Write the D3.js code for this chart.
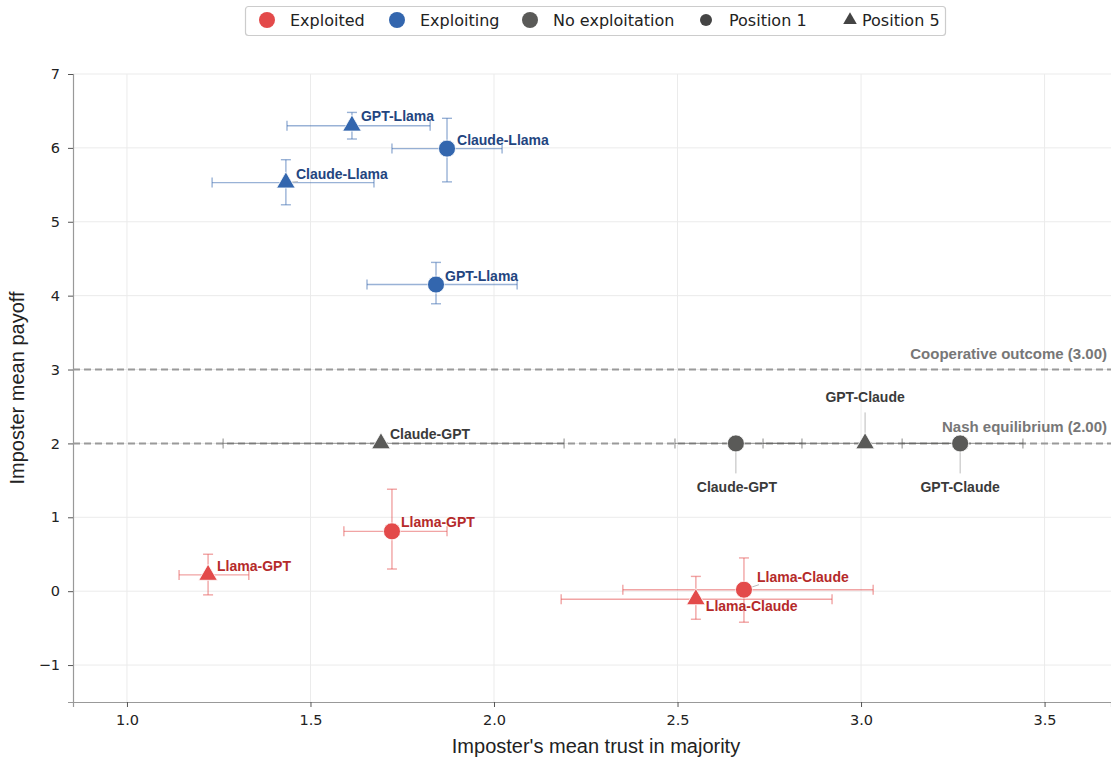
<!DOCTYPE html>
<html>
<head>
<meta charset="utf-8">
<script src="https://cdn.jsdelivr.net/npm/d3@7"></script>
<style>
  body { margin: 0; background: #fff; }
  svg { display: block; }
</style>
</head>
<body>
<svg id="chart" width="1111" height="759"></svg>
<script>
// pairs: imposter model - majority model
var labels   = ['GPT-Llama', 'Claude-Llama', 'Claude-Llama', 'GPT-Llama',
                'Claude-GPT', 'Claude-GPT', 'GPT-Claude', 'GPT-Claude',
                'Llama-GPT', 'Llama-GPT', 'Llama-Claude', 'Llama-Claude'];
var groups   = ['Exploiting', 'Exploiting', 'Exploiting', 'Exploiting',
                'No exploitation', 'No exploitation', 'No exploitation', 'No exploitation',
                'Exploited', 'Exploited', 'Exploited', 'Exploited'];
var position = [5, 1, 5, 1, 5, 1, 5, 1, 5, 1, 1, 5];
var trust    = [1.613, 1.872, 1.433, 1.842, 1.692, 2.659, 3.011, 3.270, 1.221, 1.722, 2.681, 2.550];
var trustLo  = [1.436, 1.722, 1.232, 1.654, 1.262, 2.493, 2.733, 3.112, 1.142, 1.591, 2.351, 2.183];
var trustHi  = [1.826, 2.022, 1.673, 2.063, 2.191, 2.839, 3.289, 3.441, 1.332, 1.872, 3.033, 2.921];
var payoff   = [6.30, 5.99, 5.53, 4.15, 2.00, 2.00, 2.00, 2.00, 0.22, 0.81, 0.02, -0.11];
var payoffLo = [6.12, 5.54, 5.23, 3.89, 2.00, 2.00, 2.00, 2.00, -0.05, 0.30, -0.42, -0.38];
var payoffHi = [6.48, 6.40, 5.84, 4.45, 2.00, 2.00, 2.00, 2.00, 0.50, 1.38, 0.45, 0.20];

var refValues = [3, 2];
var refLabels = ['Cooperative outcome (3.00)', 'Nash equilibrium (2.00)'];

var xTicks = [1.0, 1.5, 2.0, 2.5, 3.0, 3.5];
var yTicks = [-1, 0, 1, 2, 3, 4, 5, 6, 7];

var legendLabels = ['Exploited', 'Exploiting', 'No exploitation', 'Position 1', 'Position 5'];

var colors = {
  'Exploited':       { mark: '#e34a4a', text: '#b52a2a' },
  'Exploiting':      { mark: '#3366ae', text: '#23457f' },
  'No exploitation': { mark: '#5a5a58', text: '#3a3a3a' }
};

// label placement (pixel offsets from the marker), anchor, leader line
var labelPlace = [
  { dx: 9,  dy: -10, anchor: 'start' },
  { dx: 10, dy: -9,  anchor: 'start' },
  { dx: 10, dy: -9,  anchor: 'start', leader: true },
  { dx: 9,  dy: -9,  anchor: 'start' },
  { dx: 9,  dy: -9,  anchor: 'start' },
  { dx: 1,  dy: 44,  anchor: 'middle', leader: [8, 30] },
  { dx: 0,  dy: -46, anchor: 'middle', leader: [-7, -31] },
  { dx: 0,  dy: 44,  anchor: 'middle', leader: [8, 30] },
  { dx: 9,  dy: -9,  anchor: 'start' },
  { dx: 9,  dy: -9,  anchor: 'start' },
  { dx: 13, dy: -13, anchor: 'start', leader: true },
  { dx: 10, dy: 7,   anchor: 'start' }
];

var svg = d3.select('#chart');
var margin = { left: 73, right: 0, top: 74, bottom: 57 };
var width = 1111, height = 759;

var x = d3.scaleLinear().domain([0.853, 3.681]).range([margin.left, width - margin.right]);
var y = d3.scaleLinear().domain([-1.5, 7]).range([height - margin.bottom, margin.top]);

var data = labels.map(function(d, i) {
  return { label: d, group: groups[i], pos: position[i],
    x: trust[i], xlo: trustLo[i], xhi: trustHi[i],
    y: payoff[i], ylo: payoffLo[i], yhi: payoffHi[i], place: labelPlace[i] };
});

// grid
var grid = svg.append('g');
grid.selectAll('.gx').data(xTicks).enter().append('line')
  .attr('x1', function(d) { return x(d); }).attr('x2', function(d) { return x(d); })
  .attr('y1', y(-1.5)).attr('y2', y(7))
  .attr('stroke', '#ebebeb').attr('stroke-width', 1);
grid.selectAll('.gy').data(yTicks).enter().append('line')
  .attr('x1', x.range()[0]).attr('x2', x.range()[1])
  .attr('y1', function(d) { return y(d); }).attr('y2', function(d) { return y(d); })
  .attr('stroke', '#ebebeb').attr('stroke-width', 1);

// reference lines
svg.selectAll('.ref').data(refValues).enter().append('line')
  .attr('x1', x.range()[0]).attr('x2', x.range()[1])
  .attr('y1', function(d) { return y(d); }).attr('y2', function(d) { return y(d); })
  .attr('stroke', '#9a9a9a').attr('stroke-width', 2).attr('stroke-dasharray', '7,4');
svg.selectAll('.reflab').data(refValues).enter().append('text')
  .attr('x', 1107).attr('y', function(d) { return y(d) - 11; })
  .attr('text-anchor', 'end')
  .style('font-family', 'Liberation Sans, Arial, sans-serif')
  .style('font-size', '15px').style('font-weight', 'bold').attr('fill', '#777')
  .text(function(d, i) { return refLabels[i]; });

// axes
var xAxis = svg.append('g').attr('transform', 'translate(0,' + y(-1.5) + ')')
  .call(d3.axisBottom(x).tickValues(xTicks).tickFormat(d3.format('.1f')).tickSize(5).tickPadding(8));
var yAxis = svg.append('g').attr('transform', 'translate(' + margin.left + ',0)')
  .call(d3.axisLeft(y).tickValues(yTicks).tickFormat(function(d) { return d < 0 ? '\u2212' + Math.abs(d) : d; }).tickSize(5).tickPadding(8));
[xAxis, yAxis].forEach(function(a) {
  a.select('.domain').attr('stroke', '#999').attr('stroke-width', 1.2);
  a.selectAll('.tick line').attr('stroke', '#555');
  a.selectAll('.tick text').attr('fill', '#222')
    .style('font-family', 'DejaVu Sans, sans-serif').style('font-size', '14.5px');
});

svg.append('text').attr('x', 596).attr('y', 753).attr('text-anchor', 'middle')
  .style('font-family', 'Liberation Sans, Arial, sans-serif').style('font-size', '20px')
  .attr('fill', '#222').text("Imposter's mean trust in majority");
svg.append('text').attr('transform', 'translate(24,388) rotate(-90)').attr('text-anchor', 'middle')
  .style('font-family', 'Liberation Sans, Arial, sans-serif').style('font-size', '20px')
  .attr('fill', '#222').text('Imposter mean payoff');

// error bars
var cap = 5;
var eb = svg.append('g').selectAll('g').data(data).enter().append('g')
  .attr('stroke', function(d) { return colors[d.group].mark; })
  .attr('stroke-opacity', 0.5).attr('stroke-width', 1.4);
eb.append('line')
  .attr('x1', function(d) { return x(d.xlo); }).attr('x2', function(d) { return x(d.xhi); })
  .attr('y1', function(d) { return y(d.y); }).attr('y2', function(d) { return y(d.y); });
eb.append('line')
  .attr('x1', function(d) { return x(d.xlo); }).attr('x2', function(d) { return x(d.xlo); })
  .attr('y1', function(d) { return y(d.y) - cap; }).attr('y2', function(d) { return y(d.y) + cap; });
eb.append('line')
  .attr('x1', function(d) { return x(d.xhi); }).attr('x2', function(d) { return x(d.xhi); })
  .attr('y1', function(d) { return y(d.y) - cap; }).attr('y2', function(d) { return y(d.y) + cap; });
eb.filter(function(d) { return d.yhi !== d.ylo; }).each(function(d) {
  var g = d3.select(this);
  g.append('line').attr('x1', x(d.x)).attr('x2', x(d.x)).attr('y1', y(d.ylo)).attr('y2', y(d.yhi));
  g.append('line').attr('x1', x(d.x) - cap).attr('x2', x(d.x) + cap).attr('y1', y(d.ylo)).attr('y2', y(d.ylo));
  g.append('line').attr('x1', x(d.x) - cap).attr('x2', x(d.x) + cap).attr('y1', y(d.yhi)).attr('y2', y(d.yhi));
});

// leader lines
svg.append('g').selectAll('line').data(data.filter(function(d) { return d.place.leader; }))
  .enter().append('line')
  .attr('stroke', '#bbb').attr('stroke-width', 1)
  .attr('x1', function(d) { return x(d.x); })
  .attr('y1', function(d) { return Array.isArray(d.place.leader) ? y(d.y) + d.place.leader[0] : y(d.y); })
  .attr('x2', function(d) { return Array.isArray(d.place.leader) ? x(d.x) : x(d.x) + d.place.dx + 2; })
  .attr('y2', function(d) { return Array.isArray(d.place.leader) ? y(d.y) + d.place.leader[1] : y(d.y) + d.place.dy + 8; });

// markers
var circle = d3.symbol().type(d3.symbolCircle).size(Math.PI * 8.5 * 8.5);
var tri = d3.symbol().type(d3.symbolTriangle).size(150);
svg.append('g').selectAll('path').data(data).enter().append('path')
  .attr('transform', function(d) { return 'translate(' + x(d.x) + ',' + y(d.y) + ')'; })
  .attr('d', function(d) { return d.pos === 1 ? circle() : tri(); })
  .attr('fill', function(d) { return colors[d.group].mark; })
  .attr('stroke', '#fff').attr('stroke-width', 0.8);

// point labels
svg.append('g').selectAll('text').data(data).enter().append('text')
  .attr('x', function(d) { return x(d.x) + d.place.dx; })
  .attr('y', function(d) { return y(d.y) + d.place.dy + 5; })
  .attr('text-anchor', function(d) { return d.place.anchor; })
  .style('font-family', 'Liberation Sans, Arial, sans-serif')
  .style('font-size', '14px').style('font-weight', 'bold')
  .attr('fill', function(d) { return colors[d.group].text; })
  .text(function(d) { return d.label; });

// legend
var legend = svg.append('g');
legend.append('rect').attr('x', 245.5).attr('y', 6.5).attr('width', 700).attr('height', 29)
  .attr('rx', 3).attr('fill', '#fff').attr('stroke', '#ccc').attr('stroke-width', 1.2);
var legX = [267, 397, 530, 706, 850];
var legMarks = [
  { type: 'circle', color: colors['Exploited'].mark, size: Math.PI * 64 },
  { type: 'circle', color: colors['Exploiting'].mark, size: Math.PI * 64 },
  { type: 'circle', color: colors['No exploitation'].mark, size: Math.PI * 64 },
  { type: 'circle', color: '#444', size: Math.PI * 36 },
  { type: 'tri', color: '#444', size: 80 }
];
var li = legend.selectAll('.li').data(legendLabels).enter().append('g')
  .attr('transform', function(d, i) { return 'translate(' + legX[i] + ',20)'; });
li.append('path')
  .attr('d', function(d, i) {
    var m = legMarks[i];
    return d3.symbol().type(m.type === 'tri' ? d3.symbolTriangle : d3.symbolCircle).size(m.size)();
  })
  .attr('fill', function(d, i) { return legMarks[i].color; });
li.append('text').attr('x', function(d, i) { return i === 4 ? 12 : 23; }).attr('y', 6)
  .style('font-family', 'DejaVu Sans, sans-serif').style('font-size', '16px').attr('fill', '#222')
  .text(function(d) { return d; });
</script>
</body>
</html>
